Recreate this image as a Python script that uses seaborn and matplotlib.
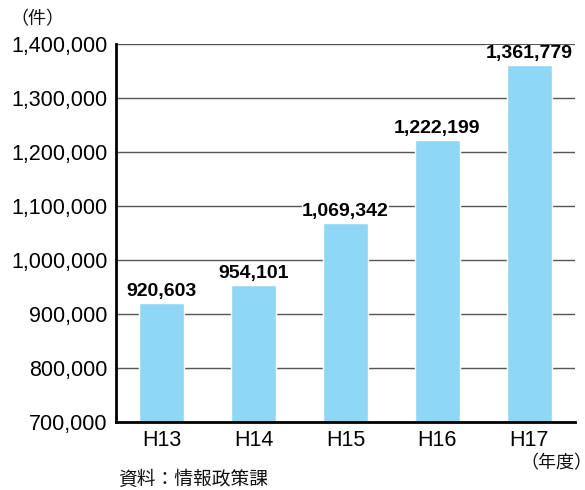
import matplotlib
matplotlib.use("Agg")
import matplotlib.pyplot as plt
import seaborn as sns
import pandas as pd
from matplotlib.ticker import FuncFormatter

categories = ["H13", "H14", "H15", "H16", "H17"]
values = [920603, 954101, 1069342, 1222199, 1361779]
yticks = [700000, 800000, 900000, 1000000, 1100000, 1200000, 1300000, 1400000]

sns.set_theme(style="white")
plt.rcParams['font.family'] = ['Noto Sans CJK JP', 'DejaVu Sans']

df = pd.DataFrame({"year": categories, "count": values})

fig = plt.figure(figsize=(5.85, 4.90), dpi=100)
ax = fig.add_axes([0.198, 0.139, 0.785, 0.771])

for t in yticks[1:]:
    ax.axhline(t, color="#555555", lw=1.0, zorder=0)

sns.barplot(data=df, x="year", y="count", color="#8fd8f5", width=0.49,
            saturation=1, ax=ax, zorder=2)

ax.set_ylim(700000, 1400000)
ax.set_yticks(yticks)
ax.yaxis.set_major_formatter(FuncFormatter(lambda v, p: f"{int(v):,}"))
ax.set_xlabel("")
ax.set_ylabel("")
ax.set_xlim(-0.5, 4.5)

for s in ["top", "right"]:
    ax.spines[s].set_visible(False)
for s in ["left", "bottom"]:
    ax.spines[s].set_color("black")
    ax.spines[s].set_linewidth(2)

ax.tick_params(axis="y", length=0, colors="black", pad=6)
ax.tick_params(axis="x", length=0, colors="black", pad=6)
for lab in ax.get_yticklabels() + ax.get_xticklabels():
    lab.set_family(['Liberation Sans', 'DejaVu Sans'])
    lab.set_fontsize(15.5)

for i, v in enumerate(values):
    ax.text(i, v + 5000, f"{v:,}", ha="center", va="bottom", fontsize=14,
            fontweight="bold", family=['Liberation Sans', 'DejaVu Sans'],
            color="black", zorder=3,
            bbox=dict(facecolor="white", edgecolor="none", pad=0.3))

fig.text(37/585, 1 - 19/490, "（件）", ha="center", va="center", fontsize=13, color="#111111")
fig.text(520/585, 1 - 463/490, "（年度）", ha="left", va="center", fontsize=13, color="#111111")
fig.text(118/585, 1 - 479/490, "資料：情報政策課", ha="left", va="center", fontsize=13.5, color="#111111")

fig.savefig("out.png", dpi=100)
